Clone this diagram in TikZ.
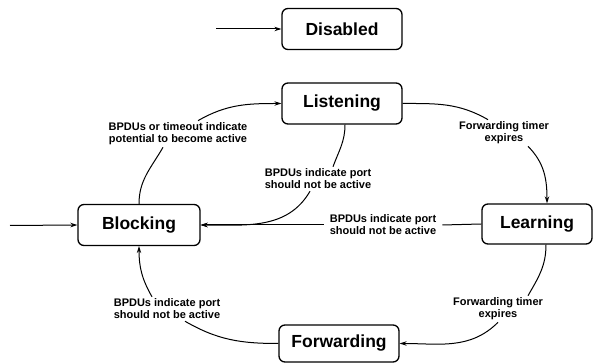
\documentclass[tikz,border=0pt]{standalone}
\usepackage{fontspec}
\setmainfont{Liberation Sans}
\usetikzlibrary{arrows.meta}
\begin{document}
\begin{tikzpicture}[x=1pt,y=1pt,
  state/.style={draw, line width=1.3pt, rounded corners=6pt, minimum height=41pt, minimum width=120pt, inner sep=0pt, font=\fontsize{17.5}{20}\selectfont\bfseries},
  elabel/.style={align=center, inner sep=2pt, font=\fontsize{11}{12}\selectfont\bfseries},
  conn/.style={line width=1pt},
  arr/.style={conn, -{Stealth[length=7pt,width=4.5pt]}},
]
\useasboundingbox (0,0) rectangle (594,363);
% states
\node[state] (dis) at (342,334) {Disabled};
\node[state] (lis) at (342,259.5) {Listening};
\node[state, minimum width=122pt] (blk) at (139,138) {Blocking};
\node[state, minimum width=110pt, minimum height=40pt] (lea) at (537,139) {Learning};
\node[state, minimum height=37pt] (fwd) at (339,19.5) {Forwarding};
% start points
\coordinate (s0) at (216,334);
\coordinate (s1) at (10,137.5);
% edge labels
\node[elabel] (l1) at (178,229) {BPDUs or timeout indicate\\potential to become active};
\node[elabel] (l2) at (318,184) {BPDUs indicate port\\should not be active};
\node[elabel] (l3) at (504,230) {Forwarding timer\\expires};
\node[elabel, inner xsep=6pt] (l4) at (383,138) {BPDUs indicate port\\should not be active};
\node[elabel] (l5) at (167,54) {BPDUs indicate port\\should not be active};
\node[elabel] (l6) at (498,54) {Forwarding timer\\expires};
% connectors
\draw[arr] (s0) -- (dis.west);
\draw[arr] (s1) -- (blk.west);
% Blocking -> Listening
\draw[conn] (blk.north) to[out=90,in=240] ([xshift=-15pt]l1.south);
\draw[arr] ([xshift=20pt]l1.north) to[out=30,in=180] (lis.west);
% Listening -> Blocking
\draw[conn] ([xshift=3pt]lis.south) to[out=-90,in=70] ([xshift=15pt]l2.north);
\draw[arr] ([xshift=-8pt]l2.south) to[out=240,in=0] (blk.east);
% Listening -> Learning
\draw[conn] (lis.east) to[out=0,in=150] ([xshift=-16pt]l3.north);
\draw[arr] ([xshift=24pt]l3.south) to[out=-45,in=90] ([xshift=10pt]lea.north);
% Learning -> Blocking
\draw[conn] (lea.west) -- (l4.east);
\draw[arr] (l4.west) -- (blk.east);
% Learning -> Forwarding
\draw[conn] ([xshift=9pt]lea.south) to[out=-90,in=60] ([xshift=30pt]l6.north);
\draw[arr] (l6.south) to[out=225,in=0] (fwd.east);
% Forwarding -> Blocking
\draw[conn] (fwd.west) to[out=180,in=-30] ([xshift=18pt]l5.south);
\draw[arr] ([xshift=-15pt]l5.north) to[out=120,in=-90] (blk.south);
\end{tikzpicture}
\end{document}
